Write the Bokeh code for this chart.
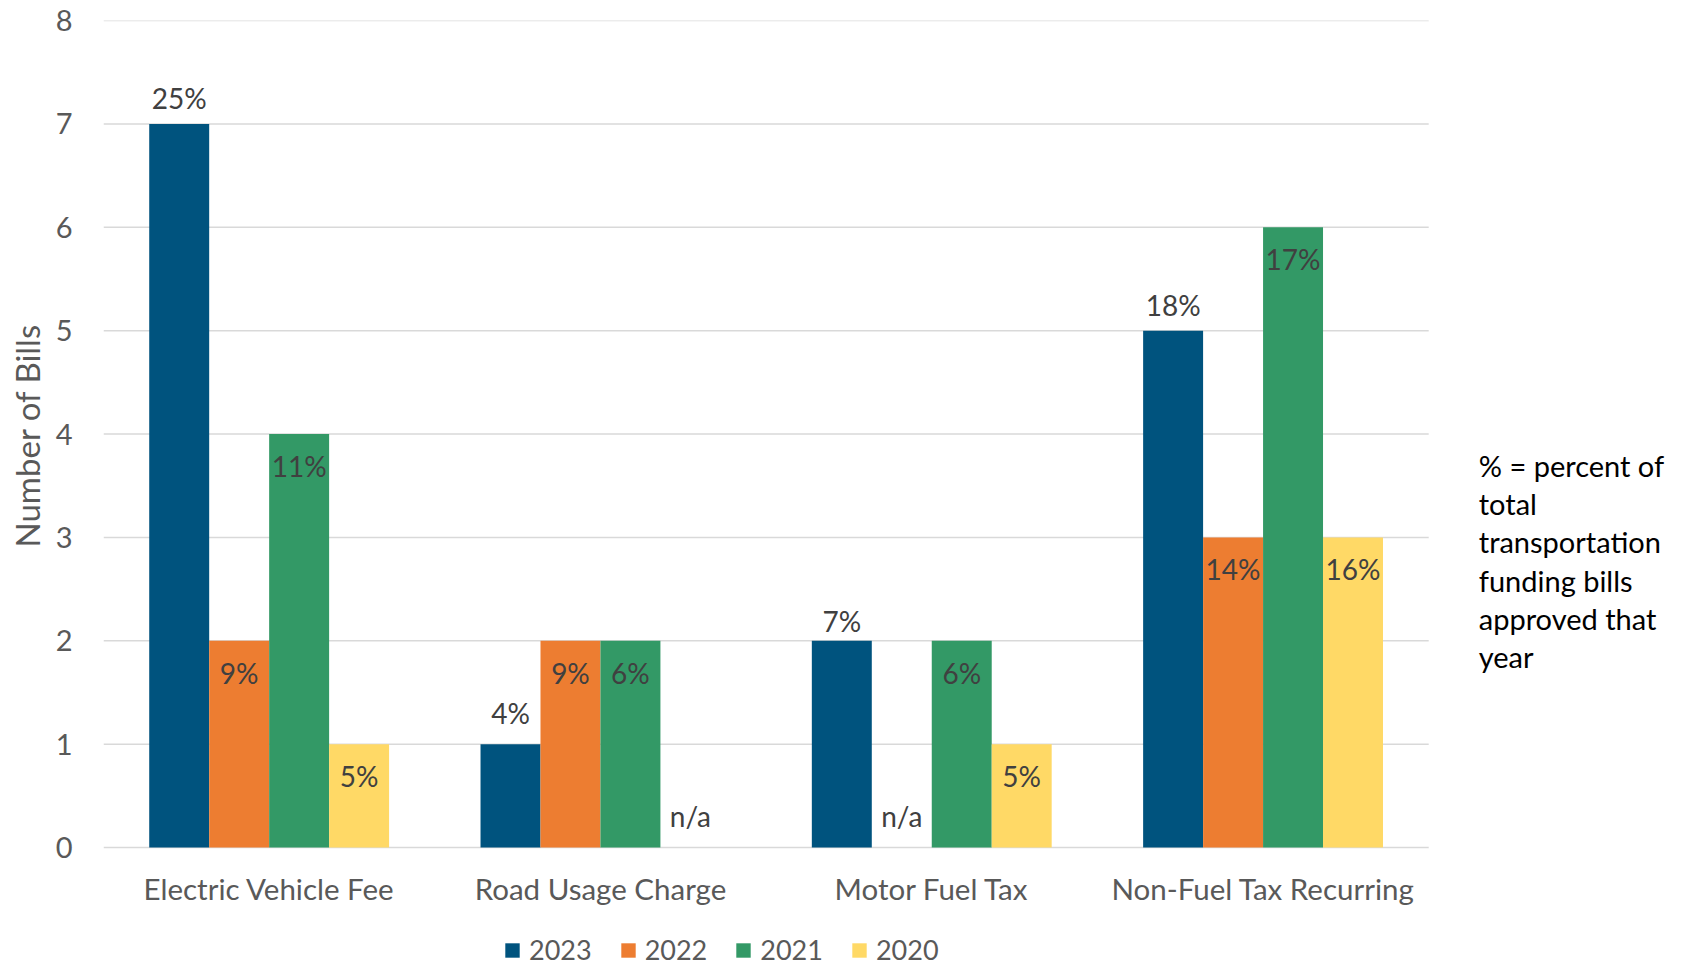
from bokeh.plotting import figure
from bokeh.models import Range1d, Legend, LegendItem, ColumnDataSource, FixedTicker, Title
from bokeh.core.properties import value
from bokeh.embed import file_html
from bokeh.resources import INLINE

# ---- data ----
categories = ["Electric Vehicle Fee", "Road Usage Charge", "Motor Fuel Tax", "Non-Fuel Tax Recurring"]
years = ["2023", "2022", "2021", "2020"]
bills_2023 = [7, 1, 2, 5]
bills_2022 = [2, 2, 0, 3]
bills_2021 = [4, 2, 2, 6]
bills_2020 = [1, 0, 1, 3]
pct_2023 = ["25%", "4%", "7%", "18%"]
pct_2022 = ["9%", "9%", "n/a", "14%"]
pct_2021 = ["11%", "6%", "6%", "17%"]
pct_2020 = ["5%", "n/a", "5%", "16%"]
y_ticks = [0, 1, 2, 3, 4, 5, 6, 7, 8]
note_lines = ["% = percent of", "total", "transportation", "funding bills", "approved that", "year"]

# ---- style ----
colors = ["#00537E", "#ED7D31", "#339966", "#FFD966"]
above_offsets_2023 = [-26, -31, -20, -26]   # label placement (screen px) above the 2023 bars
FONT = "Lato"
W, H = 1680, 966
n_cat = len(categories)
cat_x = [i + 0.5 for i in range(n_cat)]

p = figure(x_range=Range1d(0, 4.760), y_range=Range1d(-1.151, 8),
           width=W, height=H, output_backend="svg", toolbar_location=None,
           x_axis_location=None,
           min_border_left=102, min_border_right=0, min_border_top=20, min_border_bottom=0)
p.outline_line_color = None
p.xgrid.grid_line_color = None
p.ygrid.grid_line_color = None

# y axis
p.yaxis.ticker = FixedTicker(ticks=y_ticks)
p.yaxis.bounds = (min(y_ticks), max(y_ticks))
p.yaxis.axis_line_color = None
p.yaxis.major_tick_line_color = None
p.yaxis.minor_tick_line_color = None
p.yaxis.major_tick_out = 0
p.yaxis.major_tick_in = 0
p.yaxis.minor_tick_out = 0
p.yaxis.major_label_standoff = 31
p.yaxis.major_label_text_font = FONT
p.yaxis.major_label_text_font_size = "29px"
p.yaxis.major_label_text_color = "#595959"

# y axis title (placed next to the value range 0..8)
p.add_layout(Title(text="Number of Bills", align="right", offset=303, vertical_align="middle",
                   text_font=FONT, text_font_size="33px", text_font_style="normal",
                   text_color="#595959", standoff=10), "left")

# horizontal grid lines across the category area (incl. baseline at 0)
p.segment(x0=[0] * len(y_ticks), x1=[n_cat] * len(y_ticks), y0=y_ticks, y1=y_ticks,
          line_color="#D9D9D9", line_width=1.5)

# category labels under the baseline
p.text(x=cat_x, y=[0] * n_cat, text=categories, y_offset=41, text_align="center",
       text_baseline="middle", text_font=value(FONT), text_font_size="29.5px", text_color="#595959")

bar_w = 0.181
series = [(bills_2023, pct_2023), (bills_2022, pct_2022), (bills_2021, pct_2021), (bills_2020, pct_2020)]
items = []
for i, (vals, pcts) in enumerate(series):
    off = (i - 1.5) * bar_w
    if i == 0:
        yoff = above_offsets_2023
    else:
        yoff = [32 if v > 0 else -32 for v in vals]
    src = ColumnDataSource(dict(x=[c + off for c in cat_x], bills=vals, pct=pcts, yoff=yoff))
    r = p.vbar(x="x", top="bills", width=bar_w, source=src, fill_color=colors[i], line_color=None)
    p.text(x="x", y="bills", text="pct", y_offset="yoff", source=src,
           text_align="center", text_baseline="middle", text_font=value(FONT),
           text_font_size="28px", text_color="#404040")
    items.append(LegendItem(label=years[i], renderers=[r]))

legend = Legend(items=items, orientation="horizontal", location=(400, 0),
                glyph_width=18, glyph_height=18, label_standoff=8, spacing=27,
                padding=0, margin=0, border_line_color=None, background_fill_alpha=0,
                label_text_font=FONT, label_text_font_size="27px", label_text_color="#595959")
p.add_layout(legend)

# side note
note_src = ColumnDataSource(dict(x=[4.151] * len(note_lines), y=[3.695] * len(note_lines),
                                 yoff=[k * 38.2 for k in range(len(note_lines))], text=note_lines))
p.text(x="x", y="y", y_offset="yoff", text="text", source=note_src, text_align="left",
       text_baseline="middle", text_font=value(FONT), text_font_size="29px", text_color="#000000")

open("out.html", "w").write(file_html(p, INLINE))
